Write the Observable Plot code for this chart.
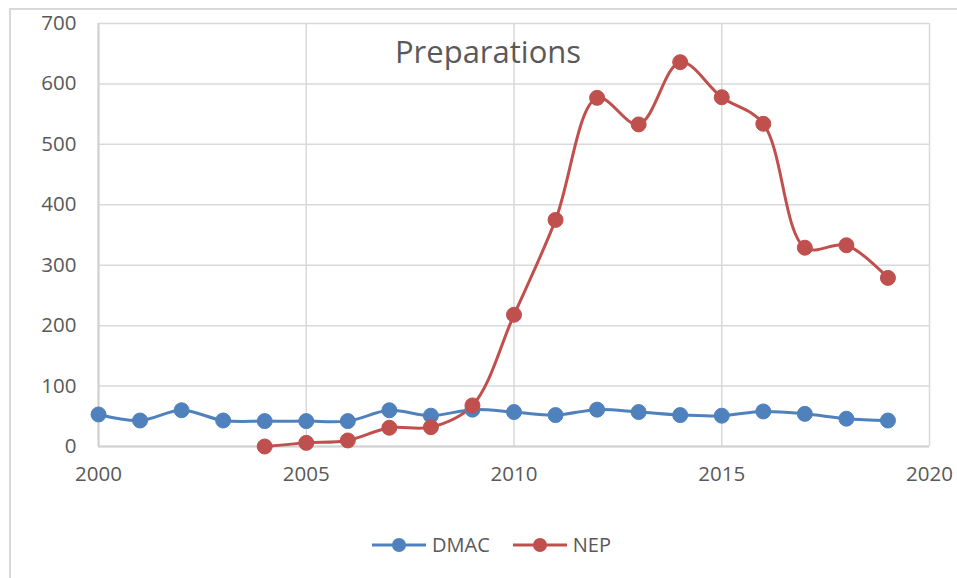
<!DOCTYPE html>
<html>
<head>
<meta charset="utf-8">
<script src="https://cdn.jsdelivr.net/npm/d3@7"></script>
<script src="https://cdn.jsdelivr.net/npm/@observablehq/plot@0.6"></script>
<style>
  html, body { margin: 0; padding: 0; background: #fff; }
  body { width: 957px; height: 578px; position: relative; overflow: hidden; font-family: "Open Sans", sans-serif; }
  #frame { position: absolute; left: 9px; top: 8px; width: 960px; height: 580px; border-left: 2px solid #d9d9d9; border-top: 2px solid #d9d9d9; box-sizing: border-box; }
  #chart { position: absolute; left: 0; top: 0; }
  #title { position: absolute; left: 0; width: 976px; top: 30px; text-align: center; font-size: 31px; color: #595959; }
  #legend { position: absolute; top: 531px; left: 0; width: 957px; display: flex; justify-content: center; gap: 22px; font-size: 20px; color: #595959; padding-left: 25px; box-sizing: border-box; }
  .item { display: flex; align-items: center; gap: 5px; }
</style>
</head>
<body>
<div id="frame"></div>
<div id="chart"></div>
<div id="title">Preparations</div>
<div id="legend"></div>
<script>
const years = [2000,2001,2002,2003,2004,2005,2006,2007,2008,2009,2010,2011,2012,2013,2014,2015,2016,2017,2018,2019];
const dmac = [53,43,60,43,42,42,42,60,51,61,57,52,61,57,52,51,58,54,46,43];
const nepYears = [2004,2005,2006,2007,2008,2009,2010,2011,2012,2013,2014,2015,2016,2017,2018,2019];
const nep = [0,6,10,31,32,68,218,375,577,533,636,578,534,329,333,279];
const xTicks = [2000,2005,2010,2015,2020];
const yTicks = [0,100,200,300,400,500,600,700];
const seriesNames = ["DMAC","NEP"];
const colors = ["#4F81BD","#C0504D"];

const dmacData = years.map((y,i) => ({year: y, value: dmac[i]}));
const nepData = nepYears.map((y,i) => ({year: y, value: nep[i]}));

const chart = Plot.plot({
  width: 957,
  height: 500,
  marginLeft: 98,
  marginRight: 28,
  marginTop: 23,
  marginBottom: 54,
  style: {fontFamily: "Open Sans, sans-serif", fontSize: "20.5px", color: "#595959", background: "transparent"},
  x: {domain: [2000, 2020], ticks: xTicks, tickFormat: "d", tickSize: 0, tickPadding: 20, label: null},
  y: {domain: [0, 700], ticks: yTicks, tickSize: 0, tickPadding: 22, label: null},
  marks: [
    Plot.gridX(xTicks, {stroke: "#d9d9d9", strokeOpacity: 1, strokeWidth: 1.5}),
    Plot.gridY(yTicks, {stroke: "#d9d9d9", strokeOpacity: 1, strokeWidth: 1.5}),
    Plot.ruleY([0], {stroke: "#d0d0d0", strokeWidth: 2}),
    Plot.ruleX([2000], {stroke: "#d0d0d0", strokeWidth: 2}),
    Plot.axisX({ticks: xTicks, tickFormat: "d", tickSize: 0, tickPadding: 20, fill: "#595959"}),
    Plot.axisY({ticks: yTicks, tickSize: 0, tickPadding: 22, fill: "#595959"}),
    Plot.line(dmacData, {x: "year", y: "value", stroke: colors[0], strokeWidth: 3, curve: "catmull-rom"}),
    Plot.line(nepData, {x: "year", y: "value", stroke: colors[1], strokeWidth: 3, curve: "catmull-rom"}),
    Plot.dot(dmacData, {x: "year", y: "value", r: 7.5, fill: colors[0], stroke: colors[0], strokeWidth: 1}),
    Plot.dot(nepData, {x: "year", y: "value", r: 7.5, fill: colors[1], stroke: colors[1], strokeWidth: 1})
  ]
});
document.getElementById("chart").appendChild(chart);

const legend = document.getElementById("legend");
seriesNames.forEach((name, i) => {
  const item = document.createElement("div");
  item.className = "item";
  item.innerHTML = `<svg width="56" height="16"><line x1="1" y1="8" x2="55" y2="8" stroke="${colors[i]}" stroke-width="3"/><circle cx="28" cy="8" r="7" fill="${colors[i]}"/></svg><span>${name}</span>`;
  legend.appendChild(item);
});
</script>
</body>
</html>
